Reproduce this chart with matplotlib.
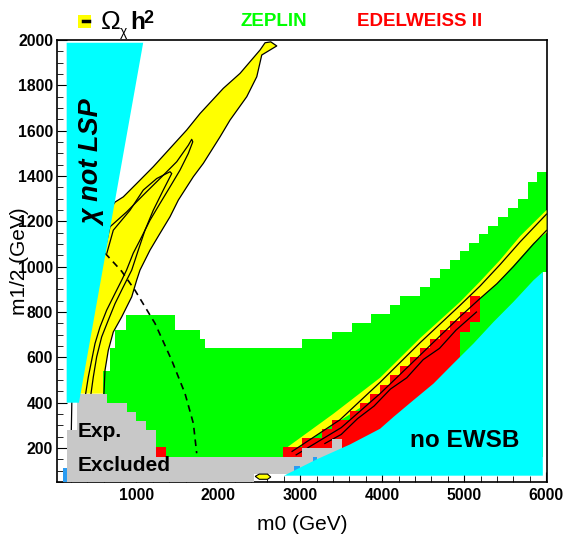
import matplotlib.pyplot as plt
from matplotlib.lines import Line2D
from matplotlib.patches import Rectangle
from matplotlib.ticker import MultipleLocator

plt.rcParams['font.family'] = ['Liberation Sans', 'DejaVu Sans']
plt.rcParams['font.weight'] = 'bold'

# ---- region boundaries (m0, m1/2 in GeV) ----
# chi not LSP wedge
lsp_m0 = [149, 149, 1083, 299]
lsp_m12 = [400, 1988, 1988, 400]

# no EWSB region
ewsb_m0 = [2800, 3200, 3608, 3974, 4137, 4381, 4625, 4869, 5114, 5358, 5602, 5846, 5960, 5960]
ewsb_m12 = [78, 150, 216, 285, 337, 411, 484, 573, 661, 756, 845, 940, 977, 78]

# experimentally excluded (grey), per m0 column
exp_edges = [149, 271, 637, 882, 995, 1117, 1239, 2430, 3020, 3388, 3510]
exp_top = [280, 440, 400, 360, 320, 280, 160, 160, 200, 240]
exp_bottom = [50, 50, 50, 50, 50, 50, 50, 87, 87, 87]

# ZEPLIN reach (green), per m0 column
zep_edges = [596, 678, 739, 873, 1471, 1777, 1838, 3020, 3388, 3629, 3861, 4096, 4219,
             4463, 4585, 4707, 4829, 4951, 5061, 5183, 5293, 5415, 5537, 5659, 5781,
             5891, 5960, 6005]
zep_top = [540, 640, 720, 785, 720, 680, 640, 680, 710, 750, 790, 830, 870,
           910, 950, 990, 1030, 1070, 1105, 1145, 1180, 1220, 1260, 1300, 1375,
           1420, 1420]
zep_bottom = [160] * 26 + [977]

# EDELWEISS II reach (red)
edw_edges = [2790, 3020, 3266, 3388, 3608, 3730, 3850, 3974, 4096, 4219, 4341, 4463,
             4585, 4707, 4829, 4951, 5073, 5195]
edw_top = [203, 244, 283, 322, 362, 400, 440, 480, 520, 560, 600, 640, 680, 720,
           760, 800, 870]
edw_bottom = [160] * 15 + [711, 756]
edw_cell_m0 = [1239, 1361]
edw_cell_m12 = [160, 203]

# Omega h^2 band, low-m0 branch (outer contour)
wmap_m0 = [250, 700, 739, 840, 1003, 1206, 1410, 1614, 1777, 2061, 2265, 2509, 2570,
           2640, 2713, 2530, 2469, 2347, 2143, 2021, 1817, 1695, 1512, 1410, 1288,
           1166, 1044, 1003, 943, 820, 718, 657, 617, 604]
wmap_m12 = [440, 1265, 1285, 1308, 1367, 1441, 1522, 1603, 1676, 1787, 1853, 1956, 1988,
            1992, 1974, 1934, 1838, 1750, 1647, 1573, 1456, 1397, 1294, 1220, 1147,
            1073, 985, 940, 867, 778, 712, 631, 543, 440]

# Omega h^2 band, focus point branch
fp_up_m0 = [2790, 3400, 3974, 4463, 4951, 5195, 5440, 5684, 6005]
fp_up_m12 = [190, 350, 510, 685, 845, 935, 1030, 1135, 1250]
fp_lo_m0 = [6005, 5846, 5600, 5400, 5195, 5073, 4000, 2790]
fp_lo_m12 = [1150, 1105, 1005, 925, 860, 780, 440, 160]

# inner contours
loopA_m0 = [600, 678, 882, 1084, 1288, 1492, 1634, 1675, 1688, 1634, 1532, 1410, 1288,
            1166, 1044, 962, 880, 820, 739, 637, 556, 495, 454, 413, 381]
loopA_m12 = [1050, 1176, 1242, 1316, 1389, 1463, 1536, 1562, 1551, 1500, 1426, 1352, 1279,
             1205, 1117, 1060, 985, 940, 882, 808, 734, 661, 587, 513, 440]
loopB_m0 = [640, 718, 922, 1084, 1248, 1410, 1431, 1328, 1206, 1105, 1023, 943, 840,
            739, 657, 576, 515, 474, 446]
loopB_m12 = [1060, 1161, 1249, 1338, 1389, 1419, 1411, 1338, 1249, 1161, 1073, 985, 911,
             837, 764, 690, 602, 513, 440]
fpA_m0 = [2900, 3486, 3974, 4463, 4951, 5195, 5440, 5684, 6005]
fpA_m12 = [185, 325, 490, 665, 830, 915, 1010, 1110, 1232]
fpB_m0 = [2950, 3500, 3974, 4463, 4951, 5195, 5400, 5600, 5846, 6005]
fpB_m12 = [170, 290, 440, 610, 780, 860, 925, 1000, 1100, 1160]
fpC_m0 = [3300, 3500, 3700, 3900, 4100, 4300, 4500, 4700, 4900, 5150]
fpC_m12 = [220, 260, 330, 385, 460, 510, 590, 640, 720, 800]

# dashed line
dash_m0 = [617, 820, 983, 1227, 1431, 1593, 1695, 1736]
dash_m12 = [1060, 980, 896, 750, 587, 441, 309, 177]

# small extra bits
blob_m0 = [2450, 2500, 2600, 2640, 2600, 2500]
blob_m12 = [75, 85, 85, 72, 62, 62]
blue_m0 = [(100, 149), (2918, 3000), (3150, 3200)]
blue_m12 = [(50, 110), (87, 122), (140, 160)]

fig = plt.figure(figsize=(5.63, 5.36), dpi=100)
ax = fig.add_axes([0.1021, 0.1007, 0.8686, 0.8246])

ax.fill(wmap_m0, wmap_m12, color='#ffff00', lw=0, zorder=1)
ax.stairs(zep_top, zep_edges, baseline=zep_bottom, fill=True, color='#00ff00', lw=0, zorder=2)
ax.fill(fp_up_m0 + fp_lo_m0, fp_up_m12 + fp_lo_m12, color='#ffff00', lw=0, zorder=3)
ax.stairs(edw_top, edw_edges, baseline=edw_bottom, fill=True, color='#ff0000', lw=0, zorder=4)
ax.fill_between(edw_cell_m0, edw_cell_m12[0], edw_cell_m12[1], color='#ff0000', lw=0, zorder=4)

for xs, ys in [(wmap_m0[1:], wmap_m12[1:]), (loopA_m0, loopA_m12), (loopB_m0, loopB_m12),
               (fpA_m0, fpA_m12), (fpB_m0, fpB_m12), (fpC_m0, fpC_m12)]:
    ax.plot(xs, ys, color='black', lw=0.9, zorder=4.5)
ax.plot(dash_m0, dash_m12, color='black', lw=1.2, dashes=(4, 3), zorder=4.5)
ax.plot([212, 206], [400, 280], color='black', lw=0.9, zorder=4.5)

ax.stairs(exp_top, exp_edges, baseline=exp_bottom, fill=True, color='#c8c8c8', lw=0, zorder=5)
for (x0, x1), (y0, y1) in zip(blue_m0, blue_m12):
    ax.add_patch(Rectangle((x0, y0), x1 - x0, y1 - y0, color='#2b9cf2', lw=0, zorder=5.2))
ax.fill(blob_m0, blob_m12, facecolor='#ffff00', edgecolor='black', lw=0.8, zorder=5.2)

ax.fill(lsp_m0, lsp_m12, color='#00ffff', lw=0, zorder=6)
ax.fill(ewsb_m0, ewsb_m12, color='#00ffff', lw=0, zorder=6)

ax.text(475, 1457, 'χ not LSP', rotation=90, ha='center', va='center', fontsize=19.5,
        style='italic', zorder=8)
ax.text(287, 271, 'Exp.', ha='left', va='center', fontsize=15, zorder=8)
ax.text(287, 121, 'Excluded', ha='left', va='center', fontsize=15, zorder=8)
ax.text(5012, 235, 'no EWSB', ha='center', va='center', fontsize=17.5, zorder=8)

ax.set_xlim(37, 6005)
ax.set_ylim(50, 2000)
ax.set_xticks([1000, 2000, 3000, 4000, 5000, 6000])
ax.set_yticks(range(200, 2001, 200))
ax.xaxis.set_minor_locator(MultipleLocator(200))
ax.yaxis.set_minor_locator(MultipleLocator(50))
ax.set_axisbelow(True)
ax.tick_params(which='both', direction='in', top=False, right=False, labelsize=11.3)
ax.tick_params(which='major', length=7)
ax.tick_params(which='minor', length=4.5)
ax.tick_params(axis='x', pad=4.3)
ax.tick_params(axis='y', pad=3.2)
for s in ax.spines.values():
    s.set_linewidth(1.2)

ax.set_xlabel('m0 (GeV)', fontsize=15, va='center')
ax.xaxis.set_label_coords(0.5, -0.095)
ax.set_ylabel('m1/2 (GeV)', fontsize=15, va='center')
ax.yaxis.set_label_coords(-0.077, 0.5)

# header legend
fig.patches.append(Rectangle((78 / 563, 1 - 28 / 536), 13 / 563, 13 / 536,
                             transform=fig.transFigure, color='#ffff00', lw=0))
fig.lines.append(Line2D([83 / 563, 89 / 563], [1 - 21 / 536, 1 - 21 / 536],
                        transform=fig.transFigure, color='black', lw=2.5))
fig.text(101 / 563, 1 - 28.5 / 536, 'Ω', fontsize=19, fontweight='normal', va='baseline')
fig.text(120 / 563, 1 - 36 / 536, 'χ', fontsize=10, fontweight='normal', va='baseline')
fig.text(130 / 563, 1 - 28.5 / 536, 'h', fontsize=17.5, va='baseline')
fig.text(143.5 / 563, 1 - 23 / 536, '2', fontsize=13, va='baseline')
fig.text(274 / 563, 1 - 21.5 / 536, 'ZEPLIN', fontsize=13.5, color='#00ff00',
         ha='center', va='center')
fig.text(419.5 / 563, 1 - 21.5 / 536, 'EDELWEISS II', fontsize=13.5, color='#ff0000',
         ha='center', va='center')

fig.savefig('out.png', dpi=100)
